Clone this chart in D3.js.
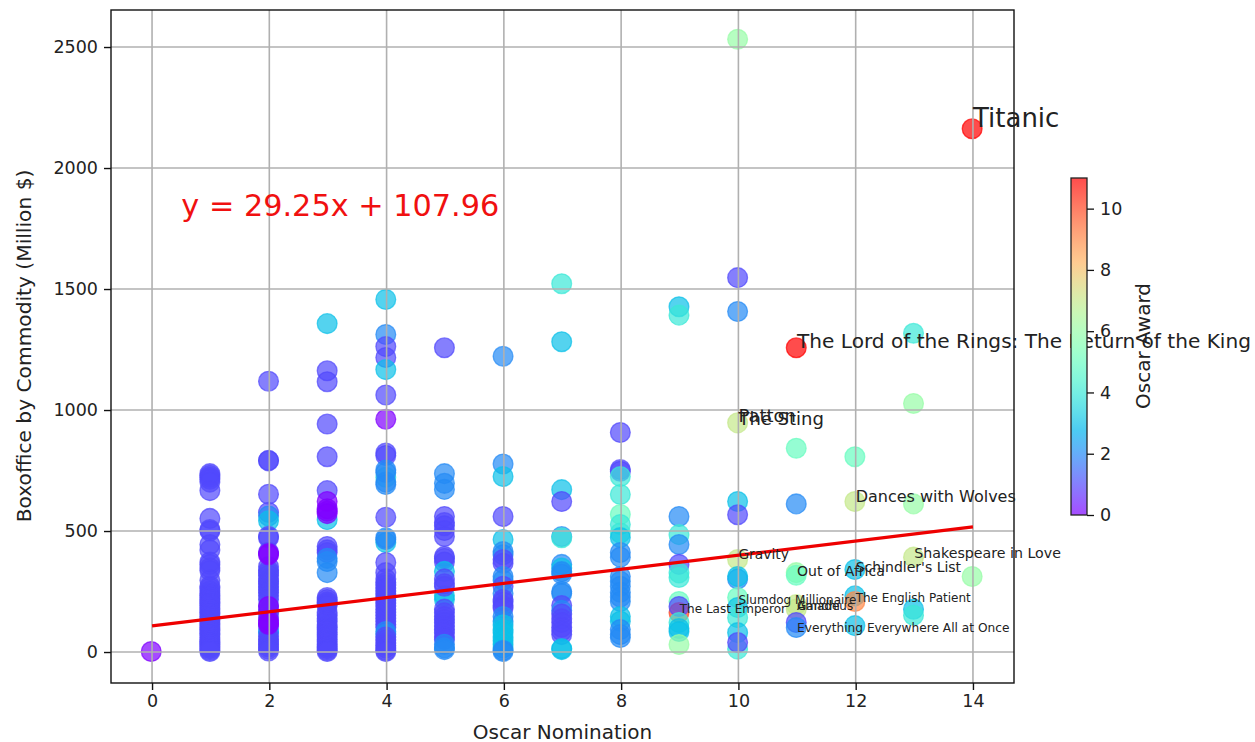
<!DOCTYPE html>
<html>
<head>
<meta charset="utf-8">
<script src="https://cdn.jsdelivr.net/npm/d3@7"></script>
<style>
html, body { margin: 0; padding: 0; background: #fff; overflow: hidden; }
text { font-family: "DejaVu Sans", sans-serif; }
</style>
</head>
<body>
<div id="chart"></div>
<script>
// [boxoffice, award] for each number of nominations
const nom0 = [[0, 0]];
const nom1 = [[735, 1], [728, 1], [720, 1], [712, 1], [700, 1], [665, 1], [550, 1], [504, 1], [498, 1], [442, 1], [420, 1], [370, 1], [360, 1], [345, 1], [335, 1], [295, 1], [270, 1], [262, 1], [250, 1], [240, 1], [232, 1], [222, 1], [215, 1], [205, 1], [198, 1], [190, 1], [180, 1], [172, 1], [162, 1], [155, 1], [145, 1], [135, 1], [128, 1], [118, 1], [110, 1], [100, 1], [92, 1], [85, 1], [75, 1], [68, 1], [58, 1], [50, 1], [42, 1], [35, 1], [28, 1], [20, 1], [12, 1], [5, 1], [0, 1]];
const nom2 = [[1117, 1], [790, 1], [788, 1], [650, 1], [575, 1], [560, 2], [540, 3], [476, 1], [470, 1], [410, 1], [350, 1], [335, 1], [326, 1], [315, 1], [300, 1], [290, 1], [280, 1], [268, 1], [255, 1], [245, 1], [230, 1], [215, 1], [190, 1], [170, 1], [160, 1], [140, 1], [105, 1], [78, 2], [82, 2], [62, 1], [50, 1], [40, 1], [30, 1], [20, 1], [10, 1], [2, 1], [405, 0], [400, 0], [186, 0], [128, 0], [118, 0], [112, 0]];
const nom3 = [[1355, 3], [1160, 1], [1115, 1], [940, 1], [805, 1], [665, 1], [545, 3], [620, 0], [590, 0], [580, 0], [570, 0], [434, 1], [420, 1], [409, 1], [372, 2], [385, 2], [326, 2], [223, 1], [215, 1], [205, 1], [198, 1], [190, 1], [160, 1], [150, 1], [135, 1], [125, 1], [110, 1], [100, 1], [90, 1], [80, 1], [70, 1], [60, 1], [50, 1], [40, 1], [30, 1], [20, 1], [12, 1], [5, 1], [0, 1]];
const nom4 = [[1455, 3], [1310, 2], [1260, 1], [1215, 1], [1165, 3], [1060, 1], [960, 0], [720, 4], [820, 1], [810, 1], [750, 2], [740, 2], [690, 2], [700, 2], [555, 1], [450, 3], [463, 2], [470, 2], [368, 1], [326, 1], [300, 1], [285, 1], [275, 1], [262, 1], [250, 1], [238, 1], [225, 1], [212, 1], [200, 1], [188, 1], [175, 1], [162, 1], [150, 1], [138, 1], [125, 1], [112, 1], [100, 1], [83, 2], [72, 2], [60, 1], [48, 1], [35, 1], [25, 1], [15, 1], [5, 1], [0, 1]];
const nom5 = [[1255, 1], [735, 2], [695, 2], [670, 2], [558, 1], [533, 1], [520, 1], [500, 1], [475, 1], [393, 1], [385, 1], [370, 1], [331, 3], [215, 3], [230, 3], [300, 1], [280, 1], [270, 1], [175, 1], [160, 1], [145, 1], [132, 1], [120, 1], [105, 1], [90, 1], [78, 1], [60, 1], [50, 1], [30, 2], [15, 2], [8, 2]];
const nom6 = [[1220, 2], [775, 2], [723, 3], [558, 1], [463, 3], [413, 2], [400, 2], [380, 1], [365, 1], [310, 2], [295, 2], [270, 1], [240, 2], [215, 1], [205, 1], [190, 1], [180, 1], [145, 2], [125, 2], [110, 3], [90, 3], [78, 3], [60, 3], [45, 3], [30, 3], [15, 3], [5, 2], [0, 2]];
const nom7 = [[1520, 4], [1280, 3], [669, 3], [620, 1], [475, 2], [470, 4], [360, 2], [345, 3], [330, 2], [320, 2], [248, 2], [240, 2], [190, 1], [170, 2], [155, 1], [135, 1], [120, 1], [100, 1], [85, 1], [70, 1], [8, 3], [12, 3]];
const nom8 = [[905, 1], [752, 1], [745, 1], [723, 4], [649, 4], [566, 5], [525, 4], [490, 4], [471, 3], [409, 2], [390, 2], [310, 2], [290, 2], [270, 2], [245, 2], [225, 2], [207, 2], [145, 3], [125, 3], [91, 2], [58, 2], [70, 2]];
const nom9 = [[1425, 3], [1390, 4], [558, 2], [483, 4], [442, 2], [360, 1], [306, 4], [325, 4], [207, 5], [161, 10], [186, 1], [120, 4], [95, 3], [83, 3], [29, 6]];
const nom10 = [[2530, 6], [1545, 1], [1405, 2], [945, 7], [620, 3], [565, 1], [380, 7], [300, 2], [310, 3], [223, 5], [182, 3], [140, 4], [78, 3], [10, 4], [37, 1]];
const nom11 = [[1255, 11], [840, 5], [610, 2], [326, 6], [315, 5], [194, 7], [175, 7], [120, 1], [99, 2]];
const nom12 = [[805, 5], [620, 7], [339, 3], [230, 3], [207, 9], [107, 3]];
const nom13 = [[1315, 4], [1025, 6], [610, 6], [390, 7], [175, 3], [150, 4]];
const nom14 = [[2160, 11], [310, 6]];
const groups = [nom0, nom1, nom2, nom3, nom4, nom5, nom6, nom7, nom8, nom9, nom10, nom11, nom12, nom13, nom14];

// film labels: name, nominations, boxoffice, font size
const films = [
    ["Titanic", 14, 2170, 26],
    ["The Lord of the Rings: The Return of the King", 11, 1255, 20.1],
    ["Patton", 10, 950, 18],
    ["The Sting", 10, 940, 18],
    ["Dances with Wolves", 12, 620, 16],
    ["Gravity", 10, 385, 13.8],
    ["Out of Africa", 11, 315, 14],
    ["Schindler's List", 12, 330, 14],
    ["Shakespeare in Love", 13, 390, 14.2],
    ["Slumdog Millionaire", 10, 198, 12],
    ["The Last Emperor", 9, 160, 12],
    ["Gandhi", 11, 175, 12],
    ["Amadeus", 11, 175, 12],
    ["The English Patient", 12, 205, 12],
    ["Everything Everywhere All at Once", 11, 83, 12.2]
];

const slope = 29.25;
const intercept = 107.96;
const xTicks = [0, 2, 4, 6, 8, 10, 12, 14];
const yTicks = [0, 500, 1000, 1500, 2000, 2500];
const awardTicks = [0, 2, 4, 6, 8, 10];

const width = 1255;
const height = 742;
const plot = { left: 111, right: 1014, top: 10, bottom: 683 };
const bar = { left: 1071, right: 1087, top: 178, bottom: 515 };
const tickSize = 17.5;

const svg = d3.select("#chart")
    .append("svg")
    .attr("width", width)
    .attr("height", height);

svg.append("rect").attr("width", width).attr("height", height).attr("fill", "#fff");

const x = d3.scaleLinear().domain([-0.7, 14.7]).range([plot.left, plot.right]);
const y = d3.scaleLinear().domain([-128, 2653]).range([plot.bottom, plot.top]);

// matplotlib rainbow
function rainbow(t) {
    const c = v => Math.round(255 * Math.min(1, Math.max(0, v)));
    return `rgb(${c(Math.abs(2 * t - 0.5))},${c(Math.sin(Math.PI * t))},${c(Math.cos(Math.PI * t / 2))})`;
}
const color = d3.scaleSequential(rainbow).domain([0, 11]);

// points
const points = groups.flatMap((g, i) => g.map(d => ({ nom: i, box: d[0], award: d[1] })));
svg.append("g")
    .attr("transform", "translate(-0.8,-0.5)")
    .selectAll("circle")
    .data(points)
    .enter()
    .append("circle")
    .attr("cx", d => x(d.nom))
    .attr("cy", d => y(d.box))
    .attr("r", 9.9)
    .attr("fill", d => color(d.award))
    .attr("stroke", d => color(d.award))
    .attr("stroke-width", 1.3)
    .attr("fill-opacity", 0.7)
    .attr("stroke-opacity", 0.7);

// grid sits above the scatter
const grid = svg.append("g").attr("stroke", "#b0b0b0").attr("stroke-width", 1.6);
xTicks.forEach(t => {
    grid.append("line").attr("x1", x(t)).attr("x2", x(t)).attr("y1", plot.top).attr("y2", plot.bottom);
});
yTicks.forEach(t => {
    grid.append("line").attr("y1", y(t)).attr("y2", y(t)).attr("x1", plot.left).attr("x2", plot.right);
});

// regression line
const line = d3.line().x(d => x(d)).y(d => y(slope * d + intercept));
svg.append("path")
    .datum([0, 14])
    .attr("d", line)
    .attr("fill", "none")
    .attr("stroke", "#ee0000")
    .attr("stroke-width", 3.2);

// frame and axes
svg.append("rect")
    .attr("x", plot.left)
    .attr("y", plot.top)
    .attr("width", plot.right - plot.left)
    .attr("height", plot.bottom - plot.top)
    .attr("fill", "none")
    .attr("stroke", "#111")
    .attr("stroke-width", 1.4);

const xAxis = svg.append("g")
    .attr("transform", `translate(0,${plot.bottom})`)
    .call(d3.axisBottom(x).tickValues(xTicks).tickSize(7).tickPadding(5));
const yAxis = svg.append("g")
    .attr("transform", `translate(${plot.left},0)`)
    .call(d3.axisLeft(y).tickValues(yTicks).tickFormat(d3.format("d")).tickSize(7).tickPadding(6));
[xAxis, yAxis].forEach(a => {
    a.select(".domain").remove();
    a.selectAll("line").attr("stroke", "#111").attr("stroke-width", 1.4);
    a.selectAll("text").attr("font-size", tickSize).attr("fill", "#222").style("font-family", '"DejaVu Sans", sans-serif');
});

svg.append("text")
    .attr("x", (plot.left + plot.right) / 2)
    .attr("y", 739)
    .attr("text-anchor", "middle")
    .attr("font-size", 20)
    .attr("fill", "#222")
    .text("Oscar Nomination");

svg.append("text")
    .attr("transform", `translate(31,346) rotate(-90)`)
    .attr("text-anchor", "middle")
    .attr("font-size", 20.2)
    .attr("fill", "#222")
    .text("Boxoffice by Commodity (Million $)");

svg.append("text")
    .attr("x", x(0.5))
    .attr("y", y(1800))
    .attr("font-size", 30.3)
    .attr("fill", "#f01010")
    .text(`y = ${slope}x + ${intercept}`);

// film names run past the axes, the colorbar is painted over them afterwards
svg.append("g")
    .selectAll("text")
    .data(films)
    .enter()
    .append("text")
    .attr("x", d => x(d[1]))
    .attr("y", d => y(d[2]))
    .attr("font-size", d => d[3])
    .attr("fill", "#222")
    .text(d => d[0]);

// colorbar
const cScale = d3.scaleLinear().domain([0, 11]).range([bar.bottom, bar.top]);
const grad = svg.append("defs").append("linearGradient")
    .attr("id", "barGrad")
    .attr("x1", 0).attr("x2", 0).attr("y1", 1).attr("y2", 0);
d3.range(0, 1.001, 0.05).forEach(t => {
    grad.append("stop")
        .attr("offset", t)
        .attr("stop-color", rainbow(t))
        .attr("stop-opacity", 0.7);
});
svg.append("rect")
    .attr("x", bar.left).attr("y", bar.top)
    .attr("width", bar.right - bar.left).attr("height", bar.bottom - bar.top)
    .attr("fill", "#fff");
svg.append("rect")
    .attr("x", bar.left).attr("y", bar.top)
    .attr("width", bar.right - bar.left).attr("height", bar.bottom - bar.top)
    .attr("fill", "url(#barGrad)")
    .attr("stroke", "#222")
    .attr("stroke-width", 1.3);

const cAxis = svg.append("g")
    .attr("transform", `translate(${bar.right},0)`)
    .call(d3.axisRight(cScale).tickValues(awardTicks).tickSize(7).tickPadding(6));
cAxis.select(".domain").remove();
cAxis.selectAll("line").attr("stroke", "#111").attr("stroke-width", 1.3);
cAxis.selectAll("text").attr("font-size", tickSize).attr("fill", "#222").style("font-family", '"DejaVu Sans", sans-serif');

svg.append("text")
    .attr("transform", `translate(1150,346) rotate(-90)`)
    .attr("text-anchor", "middle")
    .attr("font-size", 20)
    .attr("fill", "#222")
    .text("Oscar Award");
</script>
</body>
</html>
